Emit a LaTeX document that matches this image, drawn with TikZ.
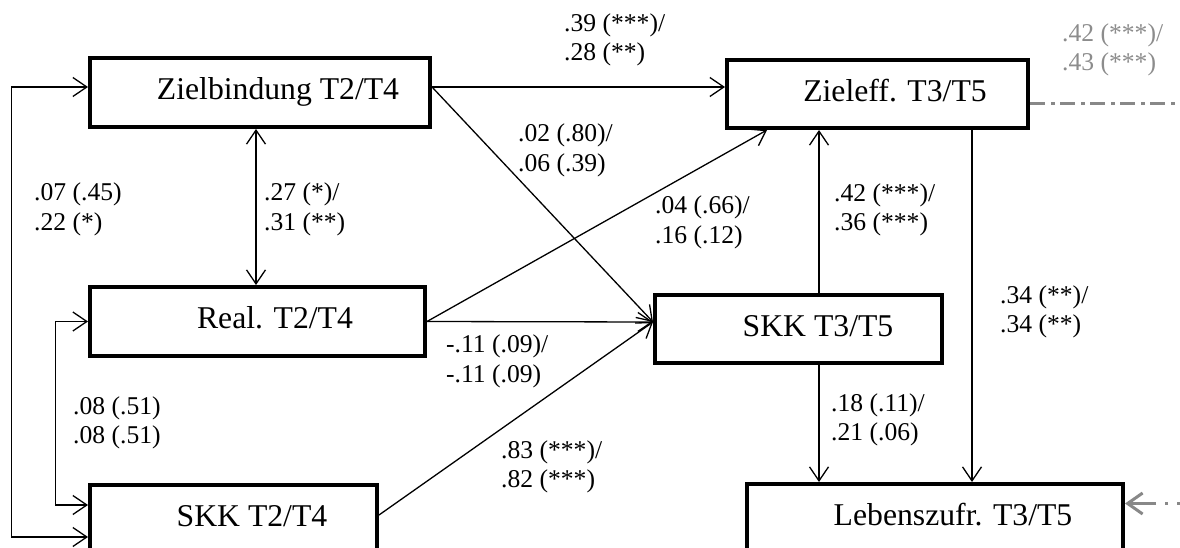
\documentclass[tikz,border=0pt]{standalone}
\usepackage{fontspec}
\setmainfont{Liberation Serif}
\usetikzlibrary{arrows.meta,calc}
\definecolor{pathgray}{RGB}{136,136,136}
\definecolor{labelgray}{RGB}{140,140,140}

\begin{document}
\begin{tikzpicture}[x=1pt,y=-1pt,
  var/.style={draw, line width=4pt, rectangle, inner sep=0pt,
    text height=21.5pt, text depth=7pt,
    font=\fontsize{31.7}{36}\selectfont},
  coef/.style={anchor=west, align=left, inner sep=0pt,
    font=\fontsize{25.6}{29.5}\selectfont},
  tip/.tip={Straight Barb[length=14pt,width=19pt]},
  path/.style={line width=1.3pt, -tip},
  both/.style={line width=1.3pt, tip-tip},
  ext/.style={line width=3pt, pathgray},
]
\path[use as bounding box, clip] (0,0) rectangle (1180,548);

% latent variables
\node[var, minimum width=340pt, minimum height=69pt] (zb)   at (260,92.5)  {\hspace*{36pt}Zielbindung T2/T4};
\node[var, minimum width=301pt, minimum height=68pt] (ze)   at (877.5,94)  {\hspace*{35pt}Zieleff. T3/T5};
\node[var, minimum width=335pt, minimum height=69pt] (re)   at (257.5,321.5) {\hspace*{35pt}Real. T2/T4};
\node[var, minimum width=287pt, minimum height=68pt] (skk3) at (798.5,329)  {\hspace*{39pt}SKK T3/T5};
\node[var, minimum width=287pt, minimum height=69pt] (skk2) at (233.5,519.5) {\hspace*{37pt}SKK T2/T4};
\node[var, minimum width=376pt, minimum height=69pt] (lz)   at (935,518.5)  {\hspace*{36pt}Lebenszufr. T3/T5};

% paths
\draw[path] ([yshift=5.5pt]zb.east) -- ([yshift=7pt]ze.west);
\draw[path] ([yshift=5.5pt]zb.east) -- ([yshift=7pt]skk3.west);
\draw[path] (re.east) -- ([xshift=-110.5pt]ze.south);
\draw[path] (re.east) -- ([yshift=7pt]skk3.west);
\draw[path] ([yshift=4.5pt]skk2.east) -- ([yshift=7pt]skk3.west);
\draw[path] ([xshift=20.5pt]skk3.north) -- ([xshift=-58.5pt]ze.south);
\draw[path] ([xshift=94.5pt]ze.south) -- ([xshift=37pt]lz.north);
\draw[path] ([xshift=20.5pt]skk3.south) -- ([xshift=-116pt]lz.north);

% correlations
\draw[both] ([xshift=-4pt]zb.south) -- ([xshift=-1.5pt]re.north);
\draw[both] ([yshift=5.5pt]zb.west) -- ++(-76.5,0) |- ([yshift=-17.5pt]skk2.west);
\draw[both] (re.west) -- ++(-32.5,0) |- ([yshift=14.5pt]skk2.west);

% paths leaving the section
\coordinate (zeout) at (1190,104);
\coordinate (lzin) at (1180,503.5);
\draw[ext, dash pattern=on 15pt off 6pt on 4pt off 5pt] ([yshift=-10pt]ze.east) -- (zeout);
\draw[ext, dash pattern=on 3pt off 9pt on 3pt off 9pt on 30pt off 9pt,
  -{Straight Barb[length=15pt,width=21pt]}] (lzin) -- ([yshift=15pt]lz.east);

% coefficients
\node[coef] (c1)  at (34,209.5)  {.07 (.45)\\.22 (*)};
\node[coef] (c2)  at (264,209.5) {.27 (*)/\\.31 (**)};
\node[coef] (c3)  at (564,40)    {.39 (***)/\\.28 (**)};
\node[coef] (c4)  at (518,150.5) {.02 (.80)/\\.06 (.39)};
\node[coef] (c5)  at (655,222.5) {.04 (.66)/\\.16 (.12)};
\node[coef] (c6)  at (834,210)   {.42 (***)/\\.36 (***)};
\node[coef, text=labelgray] (c7) at (1062,50) {.42 (***)/\\.43 (***)};
\node[coef] (c8)  at (446,361.5) {-.11 (.09)/\\-.11 (.09)};
\node[coef] (c9)  at (73,423)    {.08 (.51)\\.08 (.51)};
\node[coef] (c10) at (501,467)   {.83 (***)/\\.82 (***)};
\node[coef] (c11) at (1000,312)  {.34 (**)/\\.34 (**)};
\node[coef] (c12) at (831,420)   {.18 (.11)/\\.21 (.06)};
\end{tikzpicture}
\end{document}
